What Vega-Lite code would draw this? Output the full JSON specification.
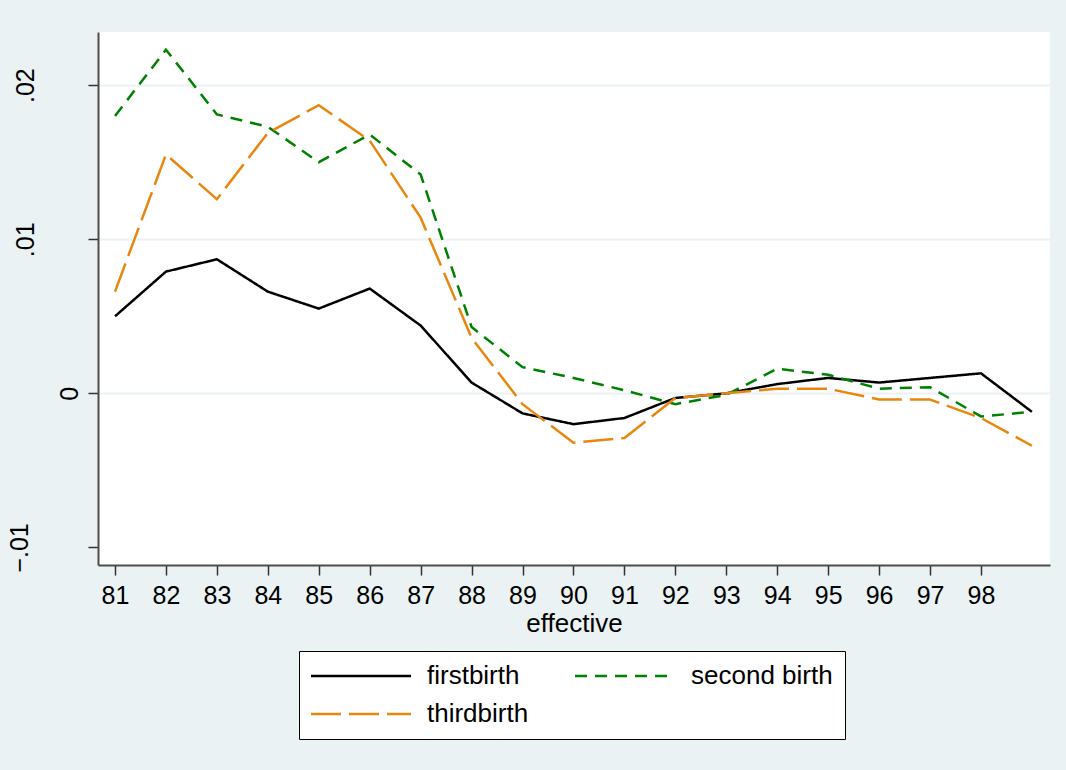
{
  "$schema": "https://vega.github.io/schema/vega-lite/v6.json",
  "width": 952,
  "height": 533,
  "autosize": {"type": "none"},
  "padding": {"left": 98, "top": 32, "right": 16, "bottom": 205},
  "background": "#EAF2F3",
  "config": {
    "view": {"stroke": null, "fill": "white"},
    "font": "Liberation Sans"
  },
  "data": {
    "values": [
      {"year": 81, "series": "firstbirth", "value": 0.0050},
      {"year": 82, "series": "firstbirth", "value": 0.0079},
      {"year": 83, "series": "firstbirth", "value": 0.0087},
      {"year": 84, "series": "firstbirth", "value": 0.0066},
      {"year": 85, "series": "firstbirth", "value": 0.0055},
      {"year": 86, "series": "firstbirth", "value": 0.0068},
      {"year": 87, "series": "firstbirth", "value": 0.0044},
      {"year": 88, "series": "firstbirth", "value": 0.0007},
      {"year": 89, "series": "firstbirth", "value": -0.0013},
      {"year": 90, "series": "firstbirth", "value": -0.0020},
      {"year": 91, "series": "firstbirth", "value": -0.0016},
      {"year": 92, "series": "firstbirth", "value": -0.0003},
      {"year": 93, "series": "firstbirth", "value": 0.0000},
      {"year": 94, "series": "firstbirth", "value": 0.0006},
      {"year": 95, "series": "firstbirth", "value": 0.0010},
      {"year": 96, "series": "firstbirth", "value": 0.0007},
      {"year": 97, "series": "firstbirth", "value": 0.0010},
      {"year": 98, "series": "firstbirth", "value": 0.0013},
      {"year": 99, "series": "firstbirth", "value": -0.0012},
      {"year": 81, "series": "second birth", "value": 0.0180},
      {"year": 82, "series": "second birth", "value": 0.0223},
      {"year": 83, "series": "second birth", "value": 0.0181},
      {"year": 84, "series": "second birth", "value": 0.0173},
      {"year": 85, "series": "second birth", "value": 0.0150},
      {"year": 86, "series": "second birth", "value": 0.0168},
      {"year": 87, "series": "second birth", "value": 0.0142},
      {"year": 88, "series": "second birth", "value": 0.0043},
      {"year": 89, "series": "second birth", "value": 0.0017},
      {"year": 90, "series": "second birth", "value": 0.0010},
      {"year": 91, "series": "second birth", "value": 0.0002},
      {"year": 92, "series": "second birth", "value": -0.0007},
      {"year": 93, "series": "second birth", "value": -0.0001},
      {"year": 94, "series": "second birth", "value": 0.0016},
      {"year": 95, "series": "second birth", "value": 0.0012},
      {"year": 96, "series": "second birth", "value": 0.0003},
      {"year": 97, "series": "second birth", "value": 0.0004},
      {"year": 98, "series": "second birth", "value": -0.0015},
      {"year": 99, "series": "second birth", "value": -0.0012},
      {"year": 81, "series": "thirdbirth", "value": 0.0066},
      {"year": 82, "series": "thirdbirth", "value": 0.0155},
      {"year": 83, "series": "thirdbirth", "value": 0.0126},
      {"year": 84, "series": "thirdbirth", "value": 0.0169},
      {"year": 85, "series": "thirdbirth", "value": 0.0187},
      {"year": 86, "series": "thirdbirth", "value": 0.0164},
      {"year": 87, "series": "thirdbirth", "value": 0.0114},
      {"year": 88, "series": "thirdbirth", "value": 0.0036},
      {"year": 89, "series": "thirdbirth", "value": -0.0007},
      {"year": 90, "series": "thirdbirth", "value": -0.0032},
      {"year": 91, "series": "thirdbirth", "value": -0.0029},
      {"year": 92, "series": "thirdbirth", "value": -0.0003},
      {"year": 93, "series": "thirdbirth", "value": 0.0000},
      {"year": 94, "series": "thirdbirth", "value": 0.0003},
      {"year": 95, "series": "thirdbirth", "value": 0.0003},
      {"year": 96, "series": "thirdbirth", "value": -0.0004},
      {"year": 97, "series": "thirdbirth", "value": -0.0004},
      {"year": 98, "series": "thirdbirth", "value": -0.0016},
      {"year": 99, "series": "thirdbirth", "value": -0.0034}
    ]
  },
  "mark": {"type": "line", "strokeWidth": 2.5, "strokeCap": "butt", "strokeJoin": "miter"},
  "encoding": {
    "x": {
      "field": "year",
      "type": "quantitative",
      "scale": {"domain": [80.666, 99.355], "nice": false, "zero": false},
      "axis": {
        "values": [81, 82, 83, 84, 85, 86, 87, 88, 89, 90, 91, 92, 93, 94, 95, 96, 97, 98],
        "title": "effective",
        "grid": false,
        "domainColor": "#4d4d4d",
        "domainWidth": 2,
        "tickColor": "#333333",
        "tickWidth": 1.5,
        "tickSize": 10,
        "labelFontSize": 25,
        "labelColor": "black",
        "labelPadding": 8,
        "labelFlush": false,
        "labelOverlap": false,
        "titleFontSize": 26,
        "titleFontWeight": "normal",
        "titleColor": "black",
        "titlePadding": 2
      }
    },
    "y": {
      "field": "value",
      "type": "quantitative",
      "scale": {"domain": [-0.01114, 0.02345], "nice": false, "zero": false},
      "axis": {
        "values": [-0.01, 0, 0.01, 0.02],
        "title": null,
        "labelExpr": "datum.value == 0 ? '0' : replace(format(datum.value, '.2f'), '0.', '.')",
        "labelAngle": -90,
        "labelAlign": "center",
        "labelBaseline": "alphabetic",
        "labelPadding": {"expr": "datum.value == 0 ? 11 : (datum.value < 0 ? 61 : 55)"},
        "labelFontSize": 25,
        "labelColor": "black",
        "labelFlush": false,
        "labelOverlap": false,
        "grid": true,
        "gridColor": "#EAF2F3",
        "gridWidth": 2,
        "gridOpacity": {"expr": "datum.value < 0 ? 0 : 1"},
        "domainColor": "#4d4d4d",
        "domainWidth": 2,
        "tickColor": "#333333",
        "tickWidth": 1.5,
        "tickSize": 10
      }
    },
    "color": {
      "field": "series",
      "type": "nominal",
      "scale": {"domain": ["firstbirth", "second birth", "thirdbirth"], "range": ["#000000", "#008000", "#E8870F"]},
      "legend": {
        "title": null,
        "orient": "none",
        "legendX": 201,
        "legendY": 619,
        "direction": "horizontal",
        "columns": 2,
        "symbolType": "M-2.6,0H17.4",
        "symbolSize": 100,
        "symbolStrokeWidth": 2.5,
        "labelFontSize": 26,
        "labelColor": "black",
        "labelOffset": 90,
        "padding": 12,
        "rowPadding": 12,
        "columnPadding": 41,
        "fillColor": "white",
        "strokeColor": "black"
      }
    },
    "strokeDash": {
      "field": "series",
      "type": "nominal",
      "scale": {"domain": ["firstbirth", "second birth", "thirdbirth"], "range": [[1, 0], [12, 8], [30, 8]]}
    }
  }
}
